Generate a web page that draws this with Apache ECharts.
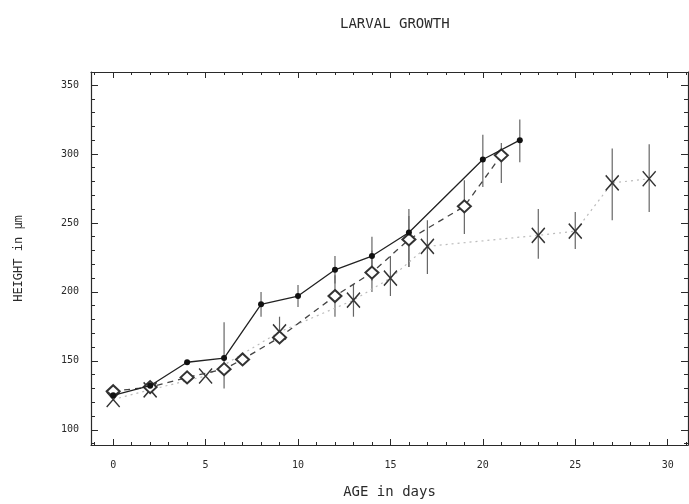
<!DOCTYPE html>
<html>
<head>
<meta charset="utf-8">
<script src="https://cdn.jsdelivr.net/npm/echarts@6/dist/echarts.min.js"></script>
<style>
  html, body { margin: 0; padding: 0; background: #fff; }
  #chart { width: 689px; height: 504px; }
</style>
</head>
<body>
<div id="chart"></div>
<script>
// filled circles, solid line
let dotDays = [0, 2, 4, 6, 8, 10, 12, 14, 16, 20, 22]
let dotHeight = [125, 132, 149, 152, 191, 197, 216, 226, 243, 296, 310]
let dotLow = [null, null, null, 130, 182, 189, 206, 208, 218, 276, 294]
let dotHigh = [null, null, null, 178, 200, 205, 226, 240, 260, 314, 325]

// open diamonds, dashed line
let diamondDays = [0, 2, 4, 6, 7, 9, 12, 14, 16, 19, 21]
let diamondHeight = [128, 131, 138, 144, 151, 167, 197, 214, 238, 262, 299]
let diamondLow = [null, null, null, null, null, null, 182, 200, 218, 242, 279]
let diamondHigh = [null, null, null, null, null, null, 212, 230, 255, 281, 308]

// crosses, dotted line
let crossDays = [0, 2, 5, 9, 13, 15, 17, 23, 25, 27, 29]
let crossHeight = [122, 129, 139, 171, 194, 210, 233, 241, 244, 279, 282]
let crossLow = [null, null, null, 162, 182, 197, 213, 224, 231, 252, 258]
let crossHigh = [null, null, null, 182, 205, 226, 252, 260, 258, 304, 307]

let font = 'DejaVu Sans Mono'
let ink = '#2a2a2a'

function points(days, values) {
    return days.map(function (d, i) { return [d, values[i]] })
}

function errorBars(days, low, high) {
    let data = []
    for (let i = 0; i < days.length; i++) {
        if (low[i] != null) data.push([days[i], low[i], high[i]])
    }
    return {
        type: 'custom',
        silent: true,
        z: 1,
        encode: { x: 0, y: [1, 2] },
        data: data,
        renderItem: function (params, api) {
            let top = api.coord([api.value(0), api.value(2)])
            let bottom = api.coord([api.value(0), api.value(1)])
            return {
                type: 'line',
                shape: { x1: top[0], y1: top[1], x2: bottom[0], y2: bottom[1] },
                style: { stroke: '#666', lineWidth: 1.2 }
            }
        }
    }
}

function xAxisOf(pos, labels) {
    return {
        type: 'value', position: pos, min: -1.2, max: 31.1, splitNumber: 6,
        axisLine: { show: true, onZero: false, lineStyle: { color: ink, width: 1.2 } },
        axisTick: { show: true, inside: true, length: 6, lineStyle: { color: ink } },
        minorTick: { show: true, splitNumber: 5, length: 3, lineStyle: { color: ink } },
        splitLine: { show: false },
        axisLabel: { show: labels, showMinLabel: false, showMaxLabel: false, margin: 15,
            fontFamily: font, fontSize: 10, color: ink }
    }
}

function yAxisOf(pos, labels) {
    return {
        type: 'value', position: pos, min: 89, max: 359.4, splitNumber: 5,
        axisLine: { show: true, onZero: false, lineStyle: { color: ink, width: 1.2 } },
        axisTick: { show: true, inside: true, length: 7, lineStyle: { color: ink } },
        minorTick: { show: true, splitNumber: 5, length: 4, lineStyle: { color: ink } },
        splitLine: { show: false },
        axisLabel: { show: labels, showMinLabel: false, showMaxLabel: false, margin: 12,
            fontFamily: font, fontSize: 10, color: ink }
    }
}

let chart = echarts.init(document.getElementById('chart'))

let bottomX = xAxisOf('bottom', true)
bottomX.name = 'AGE in days'
bottomX.nameLocation = 'middle'
bottomX.nameGap = 40
bottomX.nameTextStyle = { fontFamily: font, fontSize: 14, color: ink }

let leftY = yAxisOf('left', true)
leftY.name = 'HEIGHT in µm'
leftY.nameLocation = 'middle'
leftY.nameGap = 66
leftY.nameTextStyle = { fontFamily: font, fontSize: 12, color: ink }

chart.setOption({
    animation: false,
    backgroundColor: '#fff',
    title: {
        text: 'LARVAL GROWTH', left: 335, top: 12,
        textStyle: { fontFamily: font, fontSize: 14, fontWeight: 'normal', color: ink }
    },
    grid: { left: 91, right: 1, top: 72, bottom: 58 },
    xAxis: [bottomX, xAxisOf('top', false)],
    yAxis: [leftY, yAxisOf('right', false)],
    series: [
        errorBars(dotDays, dotLow, dotHigh),
        errorBars(diamondDays, diamondLow, diamondHigh),
        errorBars(crossDays, crossLow, crossHigh),
        {
            type: 'line',
            data: points(crossDays, crossHeight),
            symbol: 'path://M0,0L10,12M10,0L0,12',
            symbolSize: [13, 15],
            itemStyle: { color: 'rgba(0,0,0,0)', borderColor: '#333', borderWidth: 1.5 },
            lineStyle: { color: '#bbb', width: 1.2, type: [2, 4] },
            z: 2
        },
        {
            type: 'line',
            data: points(diamondDays, diamondHeight),
            symbol: 'emptyDiamond',
            symbolSize: [13, 12],
            itemStyle: { color: '#333', borderWidth: 1.5 },
            lineStyle: { color: '#444', width: 1.3, type: [6, 5] },
            z: 3
        },
        {
            type: 'line',
            data: points(dotDays, dotHeight),
            symbol: 'circle',
            symbolSize: 6,
            itemStyle: { color: '#111' },
            lineStyle: { color: '#222', width: 1.3 },
            z: 4
        }
    ]
})
</script>
</body>
</html>
